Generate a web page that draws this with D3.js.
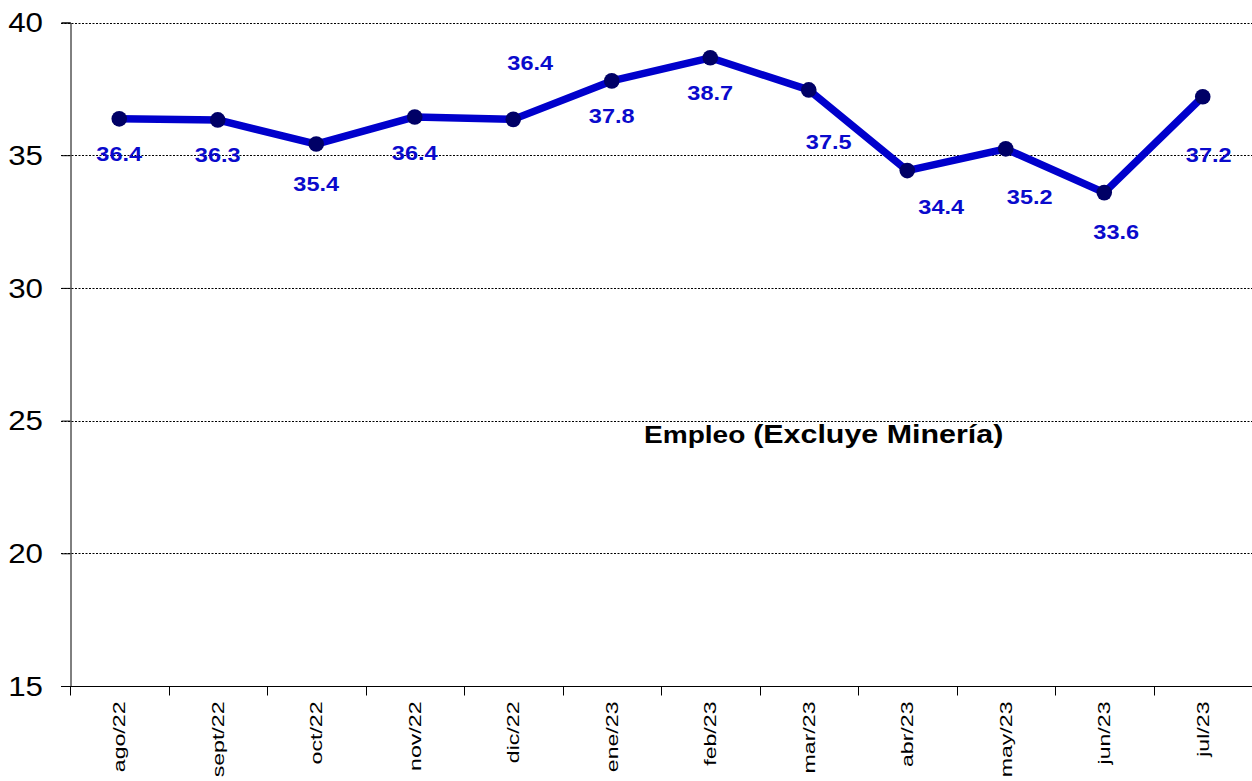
<!DOCTYPE html>
<html>
<head>
<meta charset="utf-8">
<script src="https://cdn.jsdelivr.net/npm/d3@7"></script>
<style>
  body { margin: 0; background: #fff; }
  svg { display: block; font-family: Arial, "Liberation Sans", sans-serif; }
</style>
</head>
<body>
<svg id="vis-container"></svg>
<script>
const WIDTH = 1252
const HEIGHT = 781
const MARGIN = { top: 22.5, right: 0, bottom: 95, left: 70 }

// data
const months = ['ago/22', 'sept/22', 'oct/22', 'nov/22', 'dic/22', 'ene/23',
    'feb/23', 'mar/23', 'abr/23', 'may/23', 'jun/23', 'jul/23']
const values = [36.37, 36.33, 35.42, 36.44, 36.35, 37.8, 38.67, 37.46, 34.42, 35.24, 33.59, 37.2]
const labels = ['36.4', '36.3', '35.4', '36.4', '36.4', '37.8', '38.7', '37.5', '34.4', '35.2', '33.6', '37.2']
const yTicks = [15, 20, 25, 30, 35, 40]

// where each data label sits relative to its point (layout only)
const labelShift = [[0, 35], [0, 35], [0, 39], [0, 35], [17, -57], [0, 35],
    [0, 35], [20, 52], [34, 36], [24, 48], [12, 39], [6, 58]]

// the source font is wider than Arial, so text is stretched along its run
const STRETCH = 1.16

const CONTAINER = d3.select('#vis-container')
    .attr('width', WIDTH)
    .attr('height', HEIGHT)

const x = d3.scaleBand()
    .domain(months)
    .range([MARGIN.left, WIDTH - MARGIN.right])

const y = d3.scaleLinear()
    .domain([15, 40])
    .range([HEIGHT - MARGIN.bottom, MARGIN.top])

const px = i => x(months[i]) + x.bandwidth() / 2

// gridlines
CONTAINER.append('g')
    .selectAll('line')
    .data(yTicks.filter(t => t > 15))
    .join('line')
    .attr('x1', MARGIN.left - 9)
    .attr('x2', WIDTH)
    .attr('y1', d => Math.round(y(d)) + 0.5)
    .attr('y2', d => Math.round(y(d)) + 0.5)
    .attr('stroke', '#000')
    .attr('stroke-width', 1)
    .attr('stroke-dasharray', '2,1.5')

// y axis
const yAxis = CONTAINER.append('g')
    .attr('transform', `translate(${MARGIN.left + 0.5},0)`)
    .call(d3.axisLeft(y).tickValues(yTicks).tickSize(9).tickFormat(''))
yAxis.select('.domain').attr('stroke', '#000')
yAxis.selectAll('.tick line').attr('stroke', '#000')

CONTAINER.append('g')
    .selectAll('text')
    .data(yTicks)
    .join('text')
    .attr('transform', d => `translate(${MARGIN.left - 27},${y(d)}) scale(${STRETCH},1)`)
    .attr('dy', '0.36em')
    .attr('text-anchor', 'end')
    .attr('font-size', 27)
    .attr('fill', '#000')
    .text(d => d)

// x axis, ticks between categories
const xAxisY = Math.round(y(15)) + 0.5
const xAxis = CONTAINER.append('g')
    .attr('transform', `translate(0,${xAxisY})`)
xAxis.append('line')
    .attr('x1', MARGIN.left - 9)
    .attr('x2', WIDTH)
    .attr('stroke', '#000')
xAxis.selectAll('.xtick')
    .data(d3.range(months.length + 1))
    .join('line')
    .attr('class', 'xtick')
    .attr('x1', i => Math.round(MARGIN.left + i * x.step()) + 0.5)
    .attr('x2', i => Math.round(MARGIN.left + i * x.step()) + 0.5)
    .attr('y1', 0)
    .attr('y2', 9)
    .attr('stroke', '#000')
xAxis.selectAll('.xlabel')
    .data(months)
    .join('text')
    .attr('class', 'xlabel')
    .attr('transform', d => `translate(${x(d) + x.bandwidth() / 2 + 6},15) rotate(-90) scale(1.36,1)`)
    .attr('text-anchor', 'end')
    .attr('font-size', 17)
    .attr('fill', '#000')
    .text(d => d)

// series line
const line = d3.line()
    .x((d, i) => px(i))
    .y(d => y(d))

CONTAINER.append('path')
    .datum(values)
    .attr('d', line)
    .attr('fill', 'none')
    .attr('stroke', '#0000CC')
    .attr('stroke-width', 7.5)
    .attr('stroke-linejoin', 'round')

CONTAINER.append('g')
    .selectAll('circle')
    .data(values)
    .join('circle')
    .attr('cx', (d, i) => px(i))
    .attr('cy', d => y(d))
    .attr('r', 7.8)
    .attr('fill', '#000066')

// data labels
CONTAINER.append('g')
    .selectAll('text')
    .data(values)
    .join('text')
    .attr('transform', (d, i) =>
        `translate(${px(i) + labelShift[i][0]},${y(d) + labelShift[i][1]}) scale(1.12,1)`)
    .attr('dy', '0.36em')
    .attr('text-anchor', 'middle')
    .attr('font-size', 21)
    .attr('font-weight', 'bold')
    .attr('fill', '#0A0ACC')
    .text((d, i) => labels[i])

// series title
const title = CONTAINER.append('text')
    .attr('transform', `translate(644,443) scale(1.17,1)`)
    .attr('font-weight', 'bold')
    .attr('fill', '#000')
title.append('tspan').attr('font-size', 24).text('Empleo ')
title.append('tspan').attr('font-size', 26).text('(Excluye Minería)')
</script>
</body>
</html>
